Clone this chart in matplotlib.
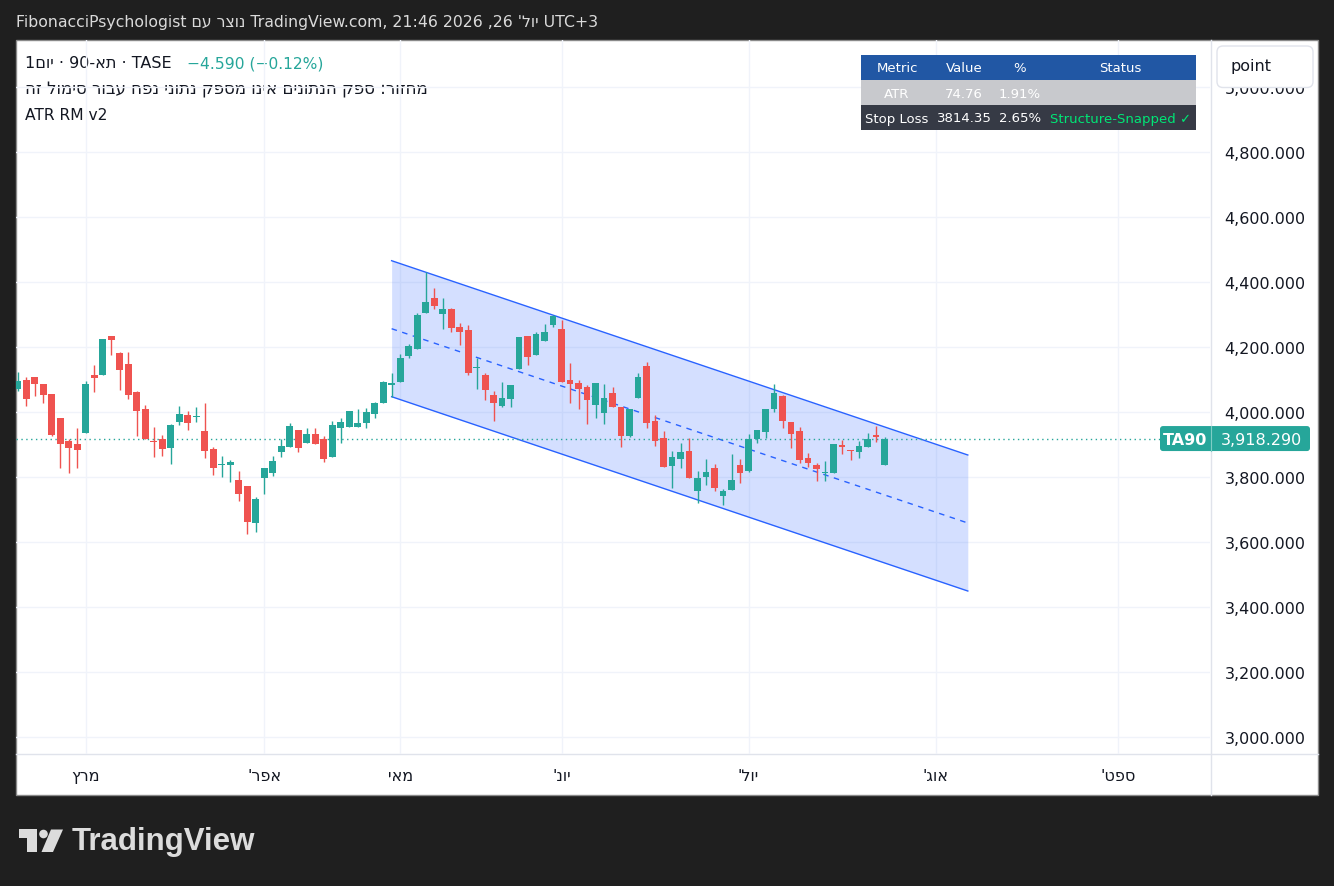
import matplotlib
matplotlib.use('Agg')
import matplotlib.pyplot as plt
from matplotlib.patches import Rectangle, FancyBboxPatch, Polygon, Circle
import numpy as np

plt.rcParams['font.family'] = ['DejaVu Sans']

W, H = 1334, 887

# daily candles, TA-90
opens = [4072, 4098, 4107, 4085, 4054, 3981, 3911, 3901, 3936, 4114,
         4115, 4233, 4181, 4148, 4061, 4009, 3911, 3917, 3890, 3970,
         3991, 3985, 3941, 3886, 3838, 3838, 3791, 3772, 3659, 3798,
         3813, 3878, 3893, 3945, 3905, 3932, 3917, 3862, 3952, 3955,
         3955, 3967, 3995, 4029, 4084, 4093, 4173, 4195, 4305, 4351,
         4302, 4317, 4261, 4252, 4135, 4114, 4052, 4019, 4041, 4133,
         4234, 4176, 4219, 4269, 4255, 4098, 4089, 4077, 4022, 3998,
         4058, 4016, 3927, 4044, 4141, 3972, 3920, 3835, 3856, 3880,
         3758, 3801, 3828, 3742, 3761, 3837, 3819, 3918, 3939, 4010,
         4049, 3969, 3941, 3858, 3837, 3813, 3813, 3898, 3883, 3878,
         3893, 3928, 3838]
highs = [4123, 4107, 4107, 4085, 4054, 3981, 3917, 3951, 4095, 4145,
         4224, 4233, 4185, 4185, 4065, 4021, 3954, 3929, 3963, 4018,
         4003, 4015, 4028, 3892, 3865, 3852, 3818, 3772, 3738, 3828,
         3865, 3917, 3966, 3945, 3951, 3951, 3926, 3972, 3981, 4003,
         4009, 4012, 4031, 4095, 4120, 4178, 4209, 4305, 4431, 4381,
         4351, 4320, 4274, 4268, 4166, 4120, 4065, 4092, 4083, 4231,
         4234, 4246, 4271, 4298, 4283, 4151, 4098, 4083, 4089, 4086,
         4077, 4016, 4009, 4120, 4154, 3991, 3941, 3880, 3905, 3920,
         3818, 3855, 3840, 3763, 3871, 3855, 3932, 3945, 4009, 4086,
         4052, 3969, 3954, 3874, 3843, 3849, 3901, 3914, 3883, 3911,
         3935, 3957, 3923]
lows = [4065, 4019, 4050, 4029, 3927, 3829, 3813, 3829, 3936, 4062,
        4115, 4176, 4069, 4041, 3927, 3918, 3862, 3865, 3841, 3961,
        3945, 3970, 3859, 3807, 3801, 3785, 3727, 3625, 3632, 3749,
        3804, 3862, 3893, 3878, 3905, 3902, 3847, 3862, 3905, 3955,
        3955, 3952, 3982, 4029, 4047, 4093, 4167, 4195, 4305, 4318,
        4256, 4247, 4207, 4115, 4072, 4038, 3973, 4016, 4016, 4133,
        4145, 4176, 4219, 4262, 4093, 4029, 4010, 3964, 3982, 3964,
        4016, 3893, 3924, 4044, 3952, 3896, 3832, 3767, 3829, 3798,
        3721, 3776, 3758, 3715, 3761, 3782, 3816, 3905, 3921, 4001,
        3952, 3890, 3844, 3832, 3789, 3789, 3813, 3872, 3853, 3859,
        3893, 3909, 3838]
closes = [4095, 4041, 4087, 4053, 3930, 3902, 3890, 3884, 4086, 4105,
          4224, 4222, 4130, 4053, 4004, 3918, 3908, 3887, 3960, 3994,
          3967, 3988, 3881, 3829, 3840, 3846, 3749, 3662, 3732, 3828,
          3849, 3895, 3957, 3890, 3932, 3902, 3856, 3960, 3969, 4003,
          3966, 4000, 4028, 4092, 4089, 4166, 4202, 4298, 4338, 4327,
          4317, 4259, 4247, 4121, 4138, 4069, 4029, 4043, 4083, 4231,
          4170, 4240, 4246, 4295, 4093, 4087, 4072, 4038, 4089, 4043,
          4016, 3927, 4009, 4108, 3967, 3912, 3832, 3861, 3877, 3798,
          3797, 3815, 3767, 3757, 3791, 3813, 3917, 3945, 4009, 4058,
          3973, 3933, 3853, 3844, 3825, 3815, 3901, 3893, 3881, 3895,
          3917, 3922.88, 3918.29]

month_pos = [8, 29, 45, 64, 86, 108, 129.5]
month_names = ["מרץ", "אפר'", "מאי", "יונ'", "יול'", "אוג'", "ספט'"]

price_ticks = list(range(3000, 5001, 200))

# parallel channel drawing (bar index, price)
chan_x = [44, 111.8]
chan_upper = [4465.5, 3867.7]
chan_lower = [4047.1, 3449.2]

last_price = 3918.29
symbol_short = "TA90"

table_head = ["Metric", "Value", "%", "Status"]
table_atr = ["ATR", "74.76", "1.91%", ""]
table_stop = ["Stop Loss", "3814.35", "2.65%", "Structure-Snapped ✓"]


def rtl(s):
    # matplotlib has no bidi, so hebrew runs are laid out in visual order
    return s[::-1]


green = '#26a69a'
red = '#ef5350'
txt = '#131722'

fig = plt.figure(figsize=(W / 100, H / 100), dpi=100, facecolor='#1f1f1f')

# background layer in pixel coords
bg = fig.add_axes([0, 0, 1, 1], zorder=0)
bg.set_xlim(0, W)
bg.set_ylim(H, 0)
bg.axis('off')
bg.add_patch(Rectangle((16, 41), 1302, 755, fc='white', ec='#8a8a8a', lw=1))
bg.plot([1211, 1211], [41, 796], color='#e0e3eb', lw=1)
bg.plot([16, 1318], [755, 755], color='#e0e3eb', lw=1)

header = ("FibonacciPsychologist " + rtl("נוצר עם") + " TradingView.com, 21:46 2026 ,26 "
          + rtl("יול'") + " UTC+3")
bg.text(16, 22, header, color='#dadada', fontsize=11.3, va='center', ha='left')

# TradingView logo
bg.add_patch(Polygon([(18.5, 830.5), (36.5, 830.5), (36.5, 853), (27, 853), (27, 839), (18.5, 839)],
                     closed=True, fc='#dcdcdc', ec='none'))
bg.add_patch(Circle((43.5, 835), 4.3, fc='#dcdcdc', ec='none'))
bg.add_patch(Polygon([(51, 830.5), (63, 830.5), (53, 853), (41.5, 853)],
                     closed=True, fc='#dcdcdc', ec='none'))
bg.text(72, 842, "TradingView", color='#dcdcdc', fontsize=22.5, fontweight='bold',
        family=['Liberation Sans', 'DejaVu Sans'], va='center', ha='left')

# legend
leg1 = "1" + rtl("יום") + " · 90-" + rtl("תא") + " · TASE"
bg.text(25, 64, leg1, color=txt, fontsize=11.5, va='center', ha='left')
bg.text(187, 64, "−4.590 (−0.12%)", color=green, fontsize=11.2, va='center', ha='left')
bg.text(25, 90, rtl("מחזור: ספק הנתונים אינו מספק נתוני נפח עבור סימול זה"),
        color=txt, fontsize=12, va='center', ha='left')
bg.text(25, 116, "ATR RM v2", color=txt, fontsize=11.2, va='center', ha='left')

# main chart
ax = fig.add_axes([16 / W, (H - 755) / H, (1210 - 16) / W, (755 - 41) / H], zorder=1)
ax.patch.set_alpha(0)
ax.set_xlim(-0.2, 140.3)
ax.set_ylim(2947.7, 5144.6)
for s in ax.spines.values():
    s.set_visible(False)
ax.set_axisbelow(True)
ax.grid(color='#f0f3fa', lw=1)

ax.set_yticks(price_ticks)
ax.set_yticklabels([f"{p:,.3f}" for p in price_ticks])
ax.yaxis.tick_right()
ax.tick_params(axis='y', length=0, pad=10.5, labelsize=11.5, labelcolor=txt)
ax.set_xticks(month_pos)
ax.set_xticklabels([rtl(m) for m in month_names])
ax.tick_params(axis='x', length=0, pad=10, labelsize=11.5, labelcolor=txt)

mid = [(u + l) / 2 for u, l in zip(chan_upper, chan_lower)]
ax.fill_between(chan_x, chan_lower, chan_upper, color='#2962ff', alpha=0.2, lw=0, zorder=1)
ax.plot(chan_x, chan_upper, color='#2962ff', lw=1, zorder=2)
ax.plot(chan_x, chan_lower, color='#2962ff', lw=1, zorder=2)
ax.plot(chan_x, mid, color='#2962ff', lw=1, ls=(0, (4, 4)), zorder=2)

idx = np.arange(len(opens))
o = np.array(opens, float)
c = np.array(closes, float)
cols = [green if cc >= oo else red for oo, cc in zip(o, c)]
bottoms = np.minimum(o, c)
heights = np.maximum(np.abs(c - o), 3)
ax.vlines(idx, lows, highs, colors=cols, lw=1, zorder=3)
ax.bar(idx, heights, bottom=bottoms, width=0.8, color=cols, lw=0, zorder=4)

ax.axhline(last_price, color=green, lw=1, ls=(0, (1, 2.5)), zorder=2)

# overlay layer
ov = fig.add_axes([0, 0, 1, 1], zorder=5)
ov.set_xlim(0, W)
ov.set_ylim(H, 0)
ov.axis('off')
ov.patch.set_alpha(0)

# last price label, placed through the main axes scale
y_last = H - ax.transData.transform((0, last_price))[1]
ov.add_patch(FancyBboxPatch((1160, y_last - 12.5), 150, 25,
                            boxstyle='round,pad=0,rounding_size=3', fc=green, ec='none'))
ov.plot([1211, 1211], [y_last - 12.5, y_last + 12.5], color='#7fcdc5', lw=0.8)
ov.text(1185.5, y_last + 0.5, symbol_short, color='white', fontsize=11.5, fontweight='bold',
        ha='center', va='center')
ov.text(1261, y_last + 0.5, f"{last_price:,.3f}", color='white', fontsize=11.5,
        ha='center', va='center')

# unit selector box over the top of the price scale
ov.add_patch(FancyBboxPatch((1217, 47), 96, 41.5, boxstyle='round,pad=0,rounding_size=6',
                            fc='white', ec='#e0e3eb', lw=1))
ov.text(1231, 66, "point", color=txt, fontsize=11.5, ha='left', va='center')

# info table
col_edges = [861, 933, 995, 1045, 1196]
row_edges = [56, 81, 106, 131]
row_bg = ['#2157a4', '#c8c9cd', '#363a45']
rows = [table_head, table_atr, table_stop]
for r, (cells, fc) in enumerate(zip(rows, row_bg)):
    y0, y1 = row_edges[r], row_edges[r + 1]
    ov.add_patch(Rectangle((col_edges[0], y0), col_edges[-1] - col_edges[0], y1 - y0,
                           fc=fc, ec='none'))
    for k, cell in enumerate(cells):
        if not cell:
            continue
        cx = (col_edges[k] + col_edges[k + 1]) / 2
        color = 'white'
        if r == 2 and k == 3:
            color = '#00e676'
        ov.text(cx, (y0 + y1) / 2 + 0.5, cell, color=color, fontsize=9.5,
                ha='center', va='center')

fig.savefig('out.png', dpi=100, facecolor=fig.get_facecolor())
